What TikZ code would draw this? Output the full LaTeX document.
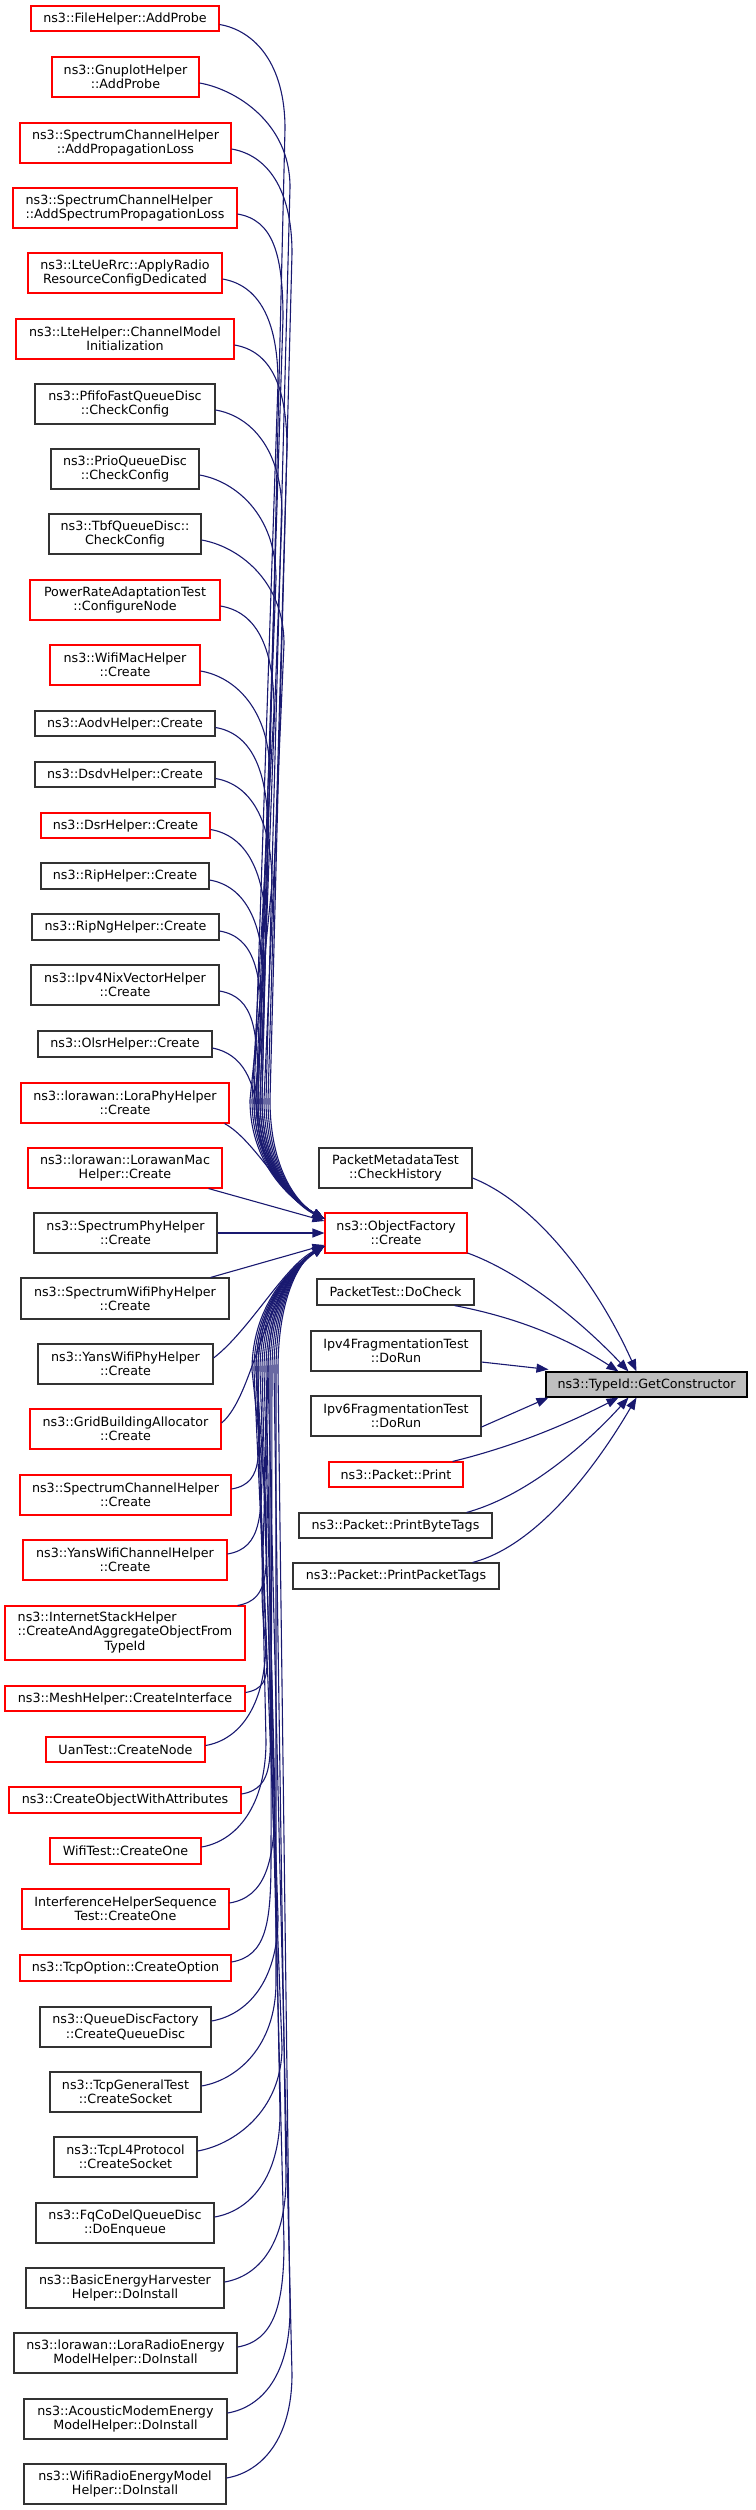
\documentclass[tikz,border=0pt]{standalone}
\usepackage{fontspec}
\setmainfont{DejaVu Sans}
\usetikzlibrary{arrows.meta,calc}
\definecolor{mblue}{RGB}{25,25,112}
\definecolor{rd}{RGB}{255,0,0}
\definecolor{gk}{RGB}{50,50,50}
\definecolor{gfill}{RGB}{191,191,191}
\newcommand\fnt{\fontsize{12.7}{14.3}\selectfont}
\newcommand\bx[7]{\node[box,draw=#2,minimum width=#5pt,minimum height=#6pt] (#1) at (#3,#4) {#7};}
\newcommand\topcn[4]{\draw[cn] (#1) .. controls +(35,6) and (#3,{#2+45}) .. (#3,{#2+110}) -- (#4,1100) .. controls (#4,1170) and (298,1204) .. ([yshift=14pt]of.west);}
\newcommand\botcn[4]{\draw[cn] (#1) .. controls +(35,-6) and (#3,{#2-45}) .. (#3,{#2-110}) -- (#4,1370) .. controls (#4,1300) and (298,1262) .. ([yshift=-13pt]of.west);}
\begin{document}
\begin{tikzpicture}[x=1pt,y=-1pt,
  box/.style={line width=1.1pt,fill=white,inner sep=0pt,align=center,font=\fnt},
  cn/.style={draw=mblue,line width=1.1pt,-{Triangle[length=12pt,width=9pt]}}]
\useasboundingbox (0,0) rectangle (755,2510);
% left column
\bx{fh}{rd}{125}{18.5}{188}{25}{ns3::FileHelper::AddProbe}
\bx{gp}{rd}{125.5}{77}{147}{40}{ns3::GnuplotHelper\\::AddProbe}
\bx{scap}{rd}{125.5}{143}{211}{40}{ns3::SpectrumChannelHelper\\::AddPropagationLoss}
\bx{scasp}{rd,align=left}{125}{208}{224}{40}{ns3::SpectrumChannelHelper\\::AddSpectrumPropagationLoss}
\bx{lte}{rd}{125}{273}{194}{40}{ns3::LteUeRrc::ApplyRadio\\ResourceConfigDedicated}
\bx{ltecm}{rd}{125}{339}{218}{40}{ns3::LteHelper::ChannelModel\\Initialization}
\bx{pfifo}{gk}{125}{404}{180}{40}{ns3::PfifoFastQueueDisc\\::CheckConfig}
\bx{prio}{gk}{125}{469}{148}{40}{ns3::PrioQueueDisc\\::CheckConfig}
\bx{tbf}{gk}{125}{534}{152}{40}{ns3::TbfQueueDisc::\\CheckConfig}
\bx{prat}{rd}{125}{600}{190}{40}{PowerRateAdaptationTest\\::ConfigureNode}
\bx{wmac}{rd}{125}{665}{150}{40}{ns3::WifiMacHelper\\::Create}
\bx{aodv}{gk}{125}{723.5}{180}{25}{ns3::AodvHelper::Create}
\bx{dsdv}{gk}{125}{774.5}{180}{25}{ns3::DsdvHelper::Create}
\bx{dsr}{rd}{125.5}{825.5}{169}{25}{ns3::DsrHelper::Create}
\bx{rip}{gk}{125}{876}{168}{26}{ns3::RipHelper::Create}
\bx{ripng}{gk}{125.5}{927}{187}{26}{ns3::RipNgHelper::Create}
\bx{nix}{gk}{125}{985}{188}{40}{ns3::Ipv4NixVectorHelper\\::Create}
\bx{olsr}{gk}{125}{1044}{174}{26}{ns3::OlsrHelper::Create}
\bx{lphy}{rd}{125}{1103}{208}{40}{ns3::lorawan::LoraPhyHelper\\::Create}
\bx{lmac}{rd}{125}{1168}{194}{40}{ns3::lorawan::LorawanMac\\Helper::Create}
\bx{sphy}{gk}{125.5}{1233}{183}{40}{ns3::SpectrumPhyHelper\\::Create}
\bx{swphy}{gk}{125}{1298.5}{208}{41}{ns3::SpectrumWifiPhyHelper\\::Create}
\bx{ywphy}{gk}{125.5}{1364}{175}{40}{ns3::YansWifiPhyHelper\\::Create}
\bx{grid}{rd}{125.5}{1429}{191}{40}{ns3::GridBuildingAllocator\\::Create}
\bx{sch}{rd}{125.5}{1495}{211}{40}{ns3::SpectrumChannelHelper\\::Create}
\bx{ywch}{rd}{125}{1560}{204}{40}{ns3::YansWifiChannelHelper\\::Create}
\bx{ish}{rd}{125}{1633}{240}{54}{\begin{tabular}{@{}l@{}}ns3::InternetStackHelper\\::CreateAndAggregateObjectFrom\\\multicolumn{1}{@{}c@{}}{TypeId}\end{tabular}}
\bx{mesh}{rd}{125}{1698.5}{240}{25}{ns3::MeshHelper::CreateInterface}
\bx{uan}{rd}{125.5}{1749.5}{159}{25}{UanTest::CreateNode}
\bx{cowa}{rd}{125}{1800}{232}{26}{ns3::CreateObjectWithAttributes}
\bx{wifit}{rd}{125.5}{1851}{151}{26}{WifiTest::CreateOne}
\bx{ihs}{rd}{125.5}{1909}{207}{40}{InterferenceHelperSequence\\Test::CreateOne}
\bx{tcpo}{rd}{125.5}{1968}{211}{26}{ns3::TcpOption::CreateOption}
\bx{qdf}{gk}{125.5}{2027}{171}{40}{ns3::QueueDiscFactory\\::CreateQueueDisc}
\bx{tgt}{gk}{125.5}{2092}{151}{40}{ns3::TcpGeneralTest\\::CreateSocket}
\bx{tl4}{gk}{125.5}{2157}{143}{40}{ns3::TcpL4Protocol\\::CreateSocket}
\bx{fq}{gk}{125}{2223}{178}{40}{ns3::FqCoDelQueueDisc\\::DoEnqueue}
\bx{beh}{gk}{125}{2288}{198}{40}{ns3::BasicEnergyHarvester\\Helper::DoInstall}
\bx{lre}{gk}{125.5}{2353}{223}{40}{ns3::lorawan::LoraRadioEnergy\\ModelHelper::DoInstall}
\bx{acm}{gk}{125.5}{2419}{203}{40}{ns3::AcousticModemEnergy\\ModelHelper::DoInstall}
\bx{wre}{gk}{125}{2484}{202}{40}{ns3::WifiRadioEnergyModel\\Helper::DoInstall}
% right column
\bx{of}{rd}{396}{1233}{142}{40}{ns3::ObjectFactory\\::Create}
\bx{pmt}{gk}{395.5}{1168}{153}{40}{PacketMetadataTest\\::CheckHistory}
\bx{ptdc}{gk}{395.5}{1292}{157}{26}{PacketTest::DoCheck}
\bx{ip4}{gk}{396}{1351}{170}{40}{Ipv4FragmentationTest\\::DoRun}
\bx{ip6}{gk}{396}{1416}{170}{40}{Ipv6FragmentationTest\\::DoRun}
\bx{pp}{rd}{396}{1474.5}{134}{25}{ns3::Packet::Print}
\bx{pbt}{gk}{395.5}{1525.5}{193}{25}{ns3::Packet::PrintByteTags}
\bx{ppt}{gk}{396}{1576}{206}{26}{ns3::Packet::PrintPacketTags}
\node[box,draw=black,fill=gfill,minimum width=201pt,minimum height=25pt] (gc) at (646.5,1384.5) {ns3::TypeId::GetConstructor};
% edges into ObjectFactory from above
\topcn{[yshift=-6pt]fh.east}{18.5}{285}{262}
\topcn{[yshift=-6pt]gp.east}{77}{290}{266}
\topcn{[yshift=-6pt]scap.east}{143}{292}{270}
\topcn{[yshift=-6pt]scasp.east}{208}{283}{258}
\topcn{[yshift=-6pt]lte.east}{273}{278}{254}
\topcn{[yshift=-6pt]ltecm.east}{339}{287}{268}
\topcn{[yshift=-6pt]pfifo.east}{404}{282}{260}
\topcn{[yshift=-6pt]prio.east}{469}{276}{256}
\topcn{[yshift=-6pt]tbf.east}{534}{284}{264}
\topcn{[yshift=-6pt]prat.east}{600}{274}{252}
\topcn{[yshift=-6pt]wmac.east}{665}{270}{258}
\topcn{[yshift=-4pt]aodv.east}{723.5}{268}{262}
\topcn{[yshift=-4pt]dsdv.east}{774.5}{272}{250}
\topcn{[yshift=-4pt]dsr.east}{825.5}{266}{256}
\topcn{[yshift=-4pt]rip.east}{876}{264}{260}
\topcn{[yshift=-4pt]ripng.east}{927}{262}{254}
\topcn{[yshift=-6pt]nix.east}{985}{258}{258}
\draw[cn] ([yshift=-4pt]olsr.east) .. controls +(30,6) and (255,1080) .. (258,1120) .. controls (260,1175) and (298,1204) .. ([yshift=14pt]of.west);
\draw[cn] ([xshift=-5pt]lphy.south east) .. controls (255,1140) and (285,1200) .. ([yshift=14pt]of.west);
\draw[cn] ([xshift=-14pt]lmac.south east) -- ([yshift=12pt]of.west);
\draw[cn] (sphy.east) -- (of.west);
\draw[cn] ([xshift=-19pt]swphy.north east) -- ([yshift=-12pt]of.west);
\draw[cn] ([yshift=6pt]ywphy.east) .. controls (250,1330) and (285,1265) .. ([yshift=-13pt]of.west);
\draw[cn] ([yshift=6pt]grid.east) .. controls (255,1395) and (262,1290) .. ([yshift=-13pt]of.west);
% edges into ObjectFactory from below
\botcn{[yshift=6pt]sch.east}{1495}{258}{258}
\botcn{[yshift=6pt]ywch.east}{1560}{262}{256}
\botcn{[xshift=-8pt]ish.north east}{1612}{266}{252}
\botcn{[yshift=6pt]mesh.east}{1698.5}{262}{268}
\botcn{[yshift=4pt]uan.east}{1749.5}{266}{254}
\botcn{[yshift=6pt]cowa.east}{1800}{270}{270}
\botcn{[yshift=4pt]wifit.east}{1851}{266}{258}
\botcn{[yshift=6pt]ihs.east}{1909}{275}{264}
\botcn{[yshift=6pt]tcpo.east}{1968}{271}{272}
\botcn{[yshift=6pt]qdf.east}{2027}{278}{260}
\botcn{[yshift=6pt]tgt.east}{2092}{276}{276}
\botcn{[yshift=6pt]tl4.east}{2157}{282}{256}
\botcn{[yshift=6pt]fq.east}{2223}{280}{266}
\botcn{[yshift=6pt]beh.east}{2288}{286}{274}
\botcn{[yshift=6pt]lre.east}{2353}{284}{262}
\botcn{[yshift=6pt]acm.east}{2419}{290}{278}
\botcn{[yshift=6pt]wre.east}{2484}{292}{268}
% edges into GetConstructor
\draw[cn] ([yshift=-10pt]pmt.east) .. controls (540,1205) and (600,1290) .. ([xshift=-10pt]gc.north);
\draw[cn] ([yshift=-20pt]of.east) .. controls (520,1272) and (580,1320) .. ([xshift=-18pt]gc.north);
\draw[cn] ([xshift=-20pt]ptdc.south east) .. controls (520,1318) and (570,1340) .. ([xshift=-28pt]gc.north);
\draw[cn] ([yshift=-11pt]ip4.east) -- ([xshift=3pt,yshift=2pt]gc.north west);
\draw[cn] ([yshift=-11pt]ip6.east) -- ([xshift=3pt]gc.south west);
\draw[cn] ([xshift=-11pt]pp.north east) .. controls (520,1445) and (575,1420) .. ([xshift=-28pt]gc.south);
\draw[cn] ([xshift=-26pt]pbt.north east) .. controls (530,1495) and (590,1440) .. ([xshift=-18pt]gc.south);
\draw[cn] ([xshift=-27pt]ppt.north east) .. controls (540,1545) and (600,1460) .. ([xshift=-10pt]gc.south);
\end{tikzpicture}
\end{document}
